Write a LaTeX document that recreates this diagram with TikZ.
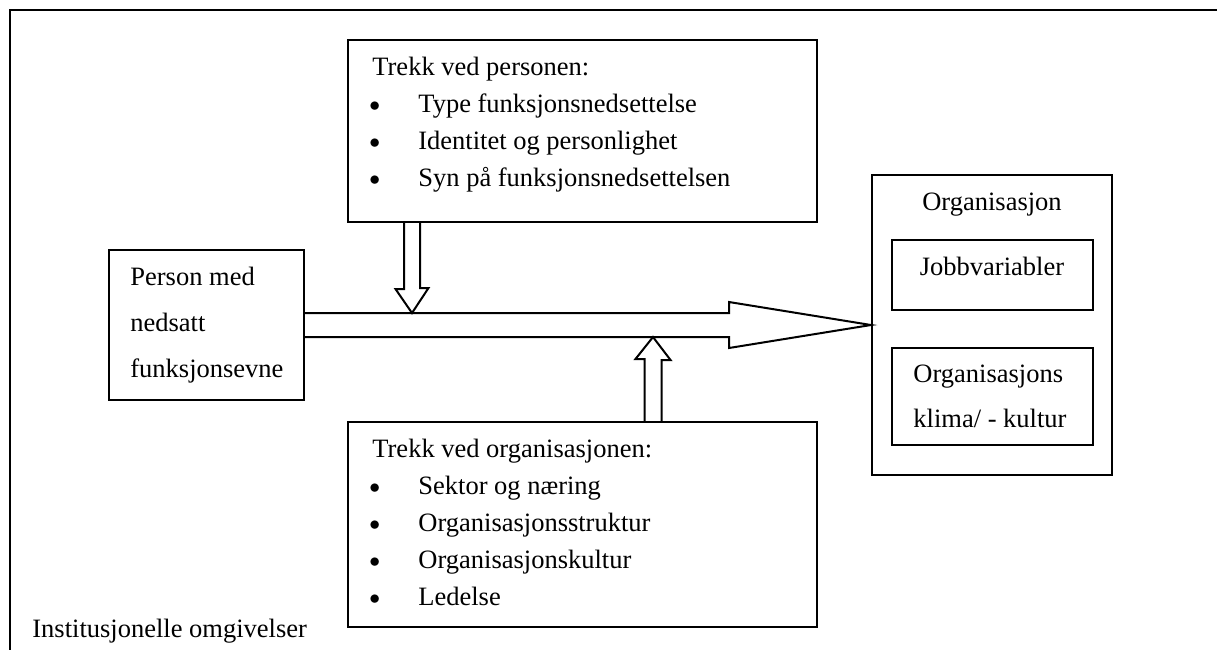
\documentclass[tikz,border=0pt]{standalone}
\usepackage{fontspec}
\usepackage{graphicx}
\setmainfont{Liberation Serif}
\usetikzlibrary{fit,calc}
\newcommand{\Punkt}[1]{\makebox[23pt][l]{\hspace{-1.5pt}\raisebox{0.8pt}{\scalebox{0.75}{$\bullet$}}}#1}
\tikzset{
  box/.style={draw, line width=1pt, inner sep=0pt},
  txt/.style={inner sep=0pt, align=left, font=\fontsize{13.25}{18.5}\selectfont},
  blockarrow/.style={draw, line width=1pt, line join=miter}
}
\begin{document}
\begin{tikzpicture}[x=0.5pt, y=-0.5pt]
	  \useasboundingbox (0,0) rectangle (1217,650);

	  % Outer frame
	  \draw[line width=1.2pt] (1217,10) -- (10,10) -- (10,650);

	  % Boxes
	  \node[box, fit={(348,40) (817,222)}]   (persontrekk) {};
	  \node[box, fit={(348,422) (817,627)}]  (orgtrekk) {};
	  \node[box, fit={(109,250) (304,400)}]  (person) {};
	  \node[box, fit={(872,175) (1112,475)}] (org) {};
	  \node[box, fit={(892,240) (1093,310)}] (jobb) {};
	  \node[box, fit={(892,348) (1093,445)}] (klima) {};

	  % Texts
	  \node[txt, anchor=north west] (persontxt) at (372,57) {Trekk ved personen:\\
	    \Punkt{Type funksjonsnedsettelse}\\
	    \Punkt{Identitet og personlighet}\\
	    \Punkt{Syn på funksjonsnedsettelsen}};
	  \node[txt, anchor=north west] (orgtxt) at (372,439) {Trekk ved organisasjonen:\\
	    \Punkt{Sektor og næring}\\
	    \Punkt{Organisasjonsstruktur}\\
	    \Punkt{Organisasjonskultur}\\
	    \Punkt{Ledelse}};
	  \node[txt, anchor=north west, font=\fontsize{13.25}{23}\selectfont] (persontekst) at (130,267)
	    {Person med\\ nedsatt\\ funksjonsevne};
	  \node[txt, anchor=base] (orgtekst) at (992,210) {Organisasjon};
	  \node[txt, anchor=base] (jobbtekst) at (992,275) {Jobbvariabler};
	  \node[txt, anchor=north west, font=\fontsize{13.25}{22.5}\selectfont] (klimatekst) at (913,365)
	    {Organisasjons\\ klima/ - kultur};
	  \node[txt, anchor=base west] (omgivelser) at (32,637) {Institusjonelle omgivelser};

	  % Block arrows
	  \coordinate (downtip) at ($(person.east)+(107,-12)$);
	  \coordinate (uptip)   at ($(person.east)+(348,12)$);
	  \draw[blockarrow] ($(person.east)+(0,-12)$) -- ($(org.west)+(-142,-12)$)
	    -- ($(org.west)+(-142,-23)$) -- (org.west) -- ($(org.west)+(-142,23)$)
	    -- ($(org.west)+(-142,12)$) -- ($(person.east)+(0,12)$);
	  \draw[blockarrow] ($(persontrekk.south -| downtip)+(-8,0)$) -- ++(0,66) -- ++(-8.5,0)
	    -- (downtip) -- ++(16.5,-25) -- ++(-8.5,0) -- ++(0,-66);
	  \draw[blockarrow] ($(orgtrekk.north -| uptip)+(-8.5,0)$) -- ++(0,-62) -- ++(-9,0)
	    -- (uptip) -- ++(17.5,23) -- ++(-9,0) -- ++(0,62);
	\end{tikzpicture}
\end{document}
